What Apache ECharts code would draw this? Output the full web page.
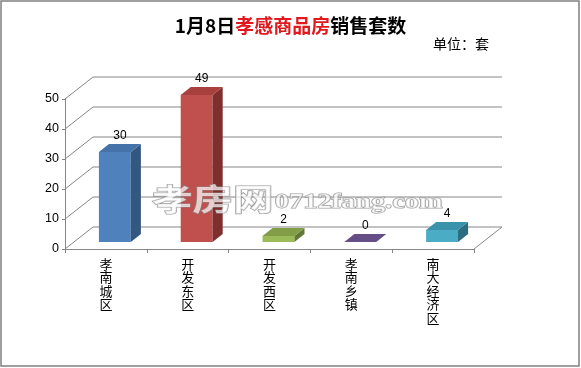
<!DOCTYPE html>
<html>
<head>
<meta charset="utf-8">
<script src="https://cdn.jsdelivr.net/npm/echarts@6/dist/echarts.min.js"></script>
<style>html,body{margin:0;padding:0;background:#fff;}#c{width:581px;height:368px;}</style>
</head>
<body>
<div id="c"></div>
<script>
const categories = ['孝南城区', '开发东区', '开发西区', '孝南乡镇', '南大经济区'];
const values = [30, 49, 2, 0, 4];
const yTicks = [0, 10, 20, 30, 40, 50];

const faceColors = ['#4F81BD', '#C0504D', '#9BBB59', '#8064A2', '#4BACC6'];
const topColors = ['#4572A9', '#A8413E', '#819D48', '#654D85', '#3B93AB'];
const sideColors = ['#34577F', '#7E2E2C', '#617935', '#4B3963', '#2C6D80'];

const DEPTH = [28, -22];
const GRID_COLOR = '#868686';

const chart = echarts.init(document.getElementById('c'), null, {renderer: 'canvas'});

function gridItem(params, api) {
  const cs = params.coordSys;
  const v = api.value(1);
  const y = api.coord([0, v])[1];
  const L = cs.x, R = cs.x + cs.width;
  const st = {stroke: GRID_COLOR, lineWidth: 1};
  const children = [
    {type: 'line', shape: {x1: L, y1: y, x2: L + DEPTH[0], y2: y + DEPTH[1]}, style: st},
    {type: 'line', shape: {x1: L + DEPTH[0], y1: y + DEPTH[1], x2: R + DEPTH[0], y2: y + DEPTH[1]}, style: st}
  ];
  if (v === 0) {
    children.push({type: 'line', shape: {x1: R, y1: y, x2: R + DEPTH[0], y2: y + DEPTH[1]}, style: st});
  }
  return {type: 'group', children: children};
}

function barItem(params, api) {
  const i = api.value(0);
  const v = api.value(1);
  const top = api.coord([i, v]);
  const base = api.coord([i, 0]);
  const bw = api.size([1, 0])[0] * 0.39;
  const fx = DEPTH[0] * 0.32, fy = DEPTH[1] * 0.32;
  const dx = DEPTH[0] * 0.36, dy = DEPTH[1] * 0.36;
  const x0 = top[0] - bw / 2 + fx, x1 = x0 + bw;
  const yT = top[1] + fy, yB = base[1] + fy;
  const children = [];
  if (yB - yT > 0.5) {
    children.push({type: 'rect', shape: {x: x0, y: yT, width: bw, height: yB - yT}, style: {fill: faceColors[i]}});
    children.push({type: 'polygon', shape: {points: [[x1, yT], [x1 + dx, yT + dy], [x1 + dx, yB + dy], [x1, yB]]}, style: {fill: sideColors[i]}});
  }
  children.push({type: 'polygon', shape: {points: [[x0, yT], [x0 + dx, yT + dy], [x1 + dx, yT + dy], [x1, yT]]}, style: {fill: topColors[i]}});
  children.push({type: 'text', style: {
    text: String(v), x: x0 + bw / 2 + dx / 2, y: yT + dy - 2,
    align: 'center', verticalAlign: 'bottom',
    font: '12px "Liberation Sans", Arial, sans-serif', fill: '#000'
  }});
  return {type: 'group', children: children};
}

const wmStyle = {fill: 'rgba(255,255,255,0.7)', stroke: 'rgba(140,140,140,0.85)', lineWidth: 1.2};

const option = {
  backgroundColor: '#fff',
  animation: false,
  title: {
    text: '{a|1月8日}{b|孝感商品房}{a|销售套数}',
    left: 'center',
    top: 11,
    textStyle: {
      rich: {
        a: {fontSize: 19, fontWeight: 'bold', color: '#000', fontFamily: '"Noto Sans CJK SC", sans-serif'},
        b: {fontSize: 19, fontWeight: 'bold', color: '#E0191E', fontFamily: '"Noto Sans CJK SC", sans-serif'}
      }
    }
  },
  grid: {left: 65, right: 107, top: 99, bottom: 119},
  xAxis: {
    type: 'category',
    data: categories,
    boundaryGap: true,
    axisLine: {lineStyle: {color: GRID_COLOR, width: 1}},
    axisTick: {show: true, length: 4, lineStyle: {color: GRID_COLOR}},
    axisLabel: {
      interval: 0,
      margin: 8,
      fontSize: 13,
      lineHeight: 13.5,
      color: '#000',
      fontFamily: '"Noto Sans CJK SC", sans-serif',
      formatter: function (v) { return v.split('').join('\n'); }
    },
    splitLine: {show: false}
  },
  yAxis: {
    type: 'value',
    min: 0, max: 50, interval: 10,
    axisLine: {show: true, lineStyle: {color: GRID_COLOR, width: 1}},
    axisTick: {show: true, length: 3, lineStyle: {color: GRID_COLOR}},
    axisLabel: {margin: 6, fontSize: 12.5, color: '#000', fontFamily: '"Liberation Sans", Arial, sans-serif'},
    splitLine: {show: false}
  },
  graphic: [
    {type: 'rect', shape: {x: 1, y: 1, width: 578, height: 365}, style: {fill: null, stroke: '#808080', lineWidth: 1.5}, z: 0},
    {type: 'text', left: 433, top: 37, style: {text: '单位：套', font: '14px "Noto Sans CJK SC", sans-serif', fill: '#000'}},
    {
      type: 'group', x: 152, y: 184, scaleX: 1.35, scaleY: 1, z: 100, zlevel: 1,
      children: [
        {type: 'text', x: 0, y: 0, z: 100, zlevel: 1, style: Object.assign({text: '孝房网', font: 'bold 30px "Noto Sans CJK SC", sans-serif'}, wmStyle)},
        {type: 'text', x: 91, y: 8, z: 100, zlevel: 1, style: Object.assign({text: '0712fang.com', font: 'bold 21px "Liberation Serif", serif'}, wmStyle)}
      ]
    }
  ],
  series: [
    {
      type: 'custom',
      z: 1,
      data: yTicks.map(function (t) { return [0, t]; }),
      encode: {x: 0, y: 1},
      renderItem: gridItem,
      silent: true
    },
    {
      type: 'custom',
      z: 5,
      data: values.map(function (v, i) { return [i, v]; }),
      encode: {x: 0, y: 1},
      renderItem: barItem
    }
  ]
};
chart.setOption(option);
</script>
</body>
</html>
